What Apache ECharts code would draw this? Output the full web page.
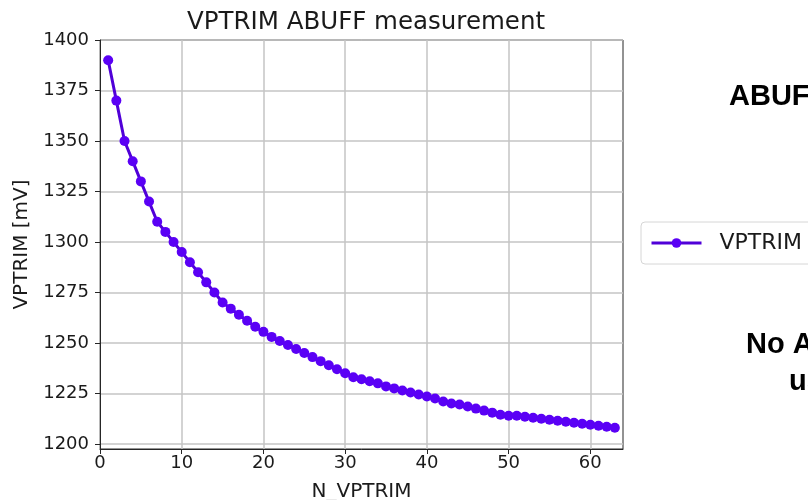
<!DOCTYPE html>
<html>
<head>
<meta charset="utf-8">
<title>VPTRIM ABUFF measurement</title>
<script src="https://cdn.jsdelivr.net/npm/echarts@6/dist/echarts.min.js"></script>
<style>
  html, body { margin: 0; padding: 0; background: #ffffff; }
  #chart { width: 808px; height: 500px; }
</style>
</head>
<body>
<div id="chart"></div>
<script>
// VPTRIM trim code settings
const nVptrim = [
  1, 2, 3, 4, 5, 6, 7, 8, 9, 10,
  11, 12, 13, 14, 15, 16, 17, 18, 19, 20,
  21, 22, 23, 24, 25, 26, 27, 28, 29, 30,
  31, 32, 33, 34, 35, 36, 37, 38, 39, 40,
  41, 42, 43, 44, 45, 46, 47, 48, 49, 50,
  51, 52, 53, 54, 55, 56, 57, 58, 59, 60,
  61, 62, 63
];

// Measured VPTRIM voltage [mV] for each setting
const vptrimMv = [
  1390, 1370, 1350, 1340, 1330, 1320, 1310, 1305, 1300, 1295,
  1290, 1285, 1280, 1275, 1270, 1267, 1264, 1261, 1258, 1255.5,
  1253, 1251, 1249, 1247, 1245, 1243, 1241, 1239, 1237, 1235,
  1233, 1232, 1231, 1230, 1228.5, 1227.5, 1226.5, 1225.5, 1224.5, 1223.5,
  1222.5, 1221, 1220, 1219.5, 1218.5, 1217.5, 1216.5, 1215.5, 1214.5, 1214,
  1214, 1213.5, 1213, 1212.5, 1212, 1211.5, 1211, 1210.5, 1210, 1209.5,
  1209, 1208.5, 1208
];

// Tick positions
const xTicks = [0, 10, 20, 30, 40, 50, 60];
const yTicks = [1200, 1225, 1250, 1275, 1300, 1325, 1350, 1375, 1400];

const seriesName = 'VPTRIM ABUFF';
const titleText = 'VPTRIM ABUFF measurement';
const xName = 'N_VPTRIM';
const yName = 'VPTRIM [mV]';
const noteTop = 'ABUFF';
const noteBottom = ['No ABUFF', 'used'];

const points = nVptrim.map((n, i) => [n, vptrimMv[i]]);

const axisFont = 'DejaVu Sans';
const gridColor = '#c4c4c4';
const spineColor = '#262626';
const noteFont = 'bold 29px "Liberation Sans", Arial, sans-serif';

const chart = echarts.init(document.getElementById('chart'), null, { renderer: 'canvas' });

chart.setOption({
  backgroundColor: '#ffffff',
  animation: false,
  title: {
    text: titleText,
    left: 361,
    textAlign: 'center',
    top: 5,
    textStyle: { fontFamily: axisFont, fontSize: 24.5, fontWeight: 'normal', color: '#1a1a1a' }
  },
  grid: {
    left: 100, right: 185, top: 40, bottom: 51,
    outerBoundsMode: 'none',
    containLabel: false,
    show: true,
    borderColor: spineColor,
    borderWidth: 1,
    backgroundColor: 'transparent'
  },
  legend: {
    data: [seriesName],
    left: 641,
    top: 222,
    orient: 'vertical',
    padding: [10, 10, 10, 9],
    itemWidth: 50,
    itemHeight: 12,
    backgroundColor: '#ffffff',
    borderColor: '#d6d6d6',
    borderWidth: 1,
    borderRadius: 4,
    lineStyle: { width: 3 },
    textStyle: { fontFamily: axisFont, fontSize: 22, color: '#1a1a1a', padding: [0, 0, 0, 13] }
  },
  xAxis: {
    type: 'value',
    min: 0,
    max: 64,
    interval: 10,
    name: xName,
    nameLocation: 'middle',
    nameGap: 33,
    nameTextStyle: { fontFamily: axisFont, fontSize: 20, color: '#1a1a1a' },
    axisLine: { show: true, onZero: false, lineStyle: { color: spineColor, width: 1 } },
    axisTick: { show: true, length: 5, customValues: xTicks, lineStyle: { color: spineColor } },
    axisLabel: {
      customValues: xTicks,
      formatter: (v) => String(v),
      fontFamily: axisFont, fontSize: 18, color: '#1a1a1a', margin: 5
    },
    splitLine: { show: true, lineStyle: { color: gridColor, width: 1.5 } }
  },
  yAxis: {
    type: 'value',
    min: 1197.5,
    max: 1400,
    name: yName,
    nameLocation: 'middle',
    nameGap: 66,
    nameRotate: 90,
    nameTextStyle: { fontFamily: axisFont, fontSize: 20, color: '#1a1a1a' },
    axisLine: { show: true, onZero: false, lineStyle: { color: spineColor, width: 1 } },
    axisTick: { show: true, length: 5, customValues: yTicks, lineStyle: { color: spineColor } },
    axisLabel: {
      customValues: yTicks,
      formatter: (v) => String(v),
      fontFamily: axisFont, fontSize: 18, color: '#1a1a1a', margin: 11
    },
    splitLine: { show: true, lineStyle: { color: gridColor, width: 1.5 } }
  },
  series: [{
    name: seriesName,
    type: 'line',
    data: points,
    symbol: 'circle',
    symbolSize: 10,
    showSymbol: true,
    lineStyle: { color: '#5000d8', width: 3 },
    itemStyle: { color: '#5a00f5', borderColor: '#5a00f5', borderWidth: 0 },
    z: 3
  }],
  graphic: [
    {
      type: 'text',
      left: 729,
      top: 82,
      style: { text: noteTop, font: noteFont, fill: '#000000' }
    },
    {
      type: 'text',
      left: 746,
      top: 330,
      style: { text: noteBottom[0], font: noteFont, fill: '#000000' }
    },
    {
      type: 'text',
      left: 789,
      top: 367,
      style: { text: noteBottom[1], font: noteFont, fill: '#000000' }
    }
  ]
});
</script>
</body>
</html>
